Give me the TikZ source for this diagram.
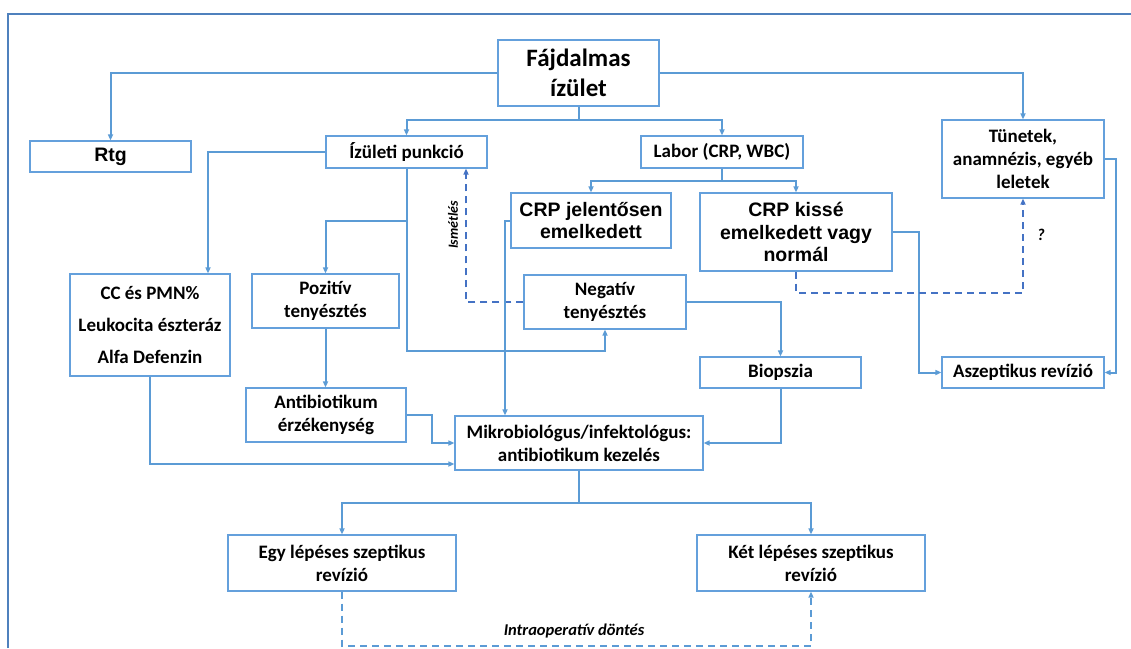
\documentclass[tikz,border=0pt]{standalone}
\usepackage{fontspec}
\setmainfont{Carlito}
\newfontfamily\arifont{Liberation Sans}
\usetikzlibrary{arrows.meta}
\definecolor{boxc}{RGB}{100,160,220}
\definecolor{linec}{RGB}{91,155,213}
\definecolor{dashc}{RGB}{68,114,196}
\definecolor{framec}{RGB}{79,129,189}
\tikzset{
  box/.style={draw=boxc, line width=1.2pt, fill=white, align=center, inner sep=1pt,
    font=\fontsize{19}{23}\selectfont\bfseries},
  abox/.style={box, font=\arifont\fontsize{19.5}{22.5}\selectfont\bfseries},
  conn/.style={draw=linec, line width=2pt},
  arr/.style={conn, -{Triangle[length=6pt,width=5pt]}},
  dsh/.style={draw=dashc, line width=2pt, dash pattern=on 7pt off 5pt, -{Triangle[length=6pt,width=5pt]}},
  dshb/.style={draw=linec, line width=2pt, dash pattern=on 7pt off 5pt, -{Triangle[length=6pt,width=5pt]}},
  lbl/.style={font=\fontsize{16.5}{18}\selectfont\bfseries\itshape, inner sep=0pt}
}
\begin{document}
\begin{tikzpicture}[x=1pt,y=-1pt]
\useasboundingbox (0,0) rectangle (1131,648);
% frame
\draw[framec, line width=2pt] (8,648) -- (8,14) -- (1131,14);
% nodes
\node[box, minimum width=161, minimum height=66, font=\fontsize{25}{30}\selectfont\bfseries] (fa) at (578.5,73) {Fájdalmas\\ízület};
\node[abox, minimum width=161, minimum height=31] (rtg) at (110.5,156.5) {Rtg};
\node[box, minimum width=161, minimum height=32] (izp) at (406.5,152) {Ízületi punkció};
\node[box, minimum width=162, minimum height=32] (lab) at (722,152) {Labor (CRP, WBC)};
\node[box, minimum width=162, minimum height=78] (tun) at (1023,159) {Tünetek,\\anamnézis, egyéb\\leletek};
\node[abox, minimum width=160, minimum height=55] (crpj) at (591,220.5) {CRP jelentősen\\emelkedett};
\node[abox, minimum width=192, minimum height=78] (crpk) at (796,232) {CRP kissé\\emelkedett vagy\\normál};
\node[box, minimum width=160, minimum height=102, font=\fontsize{19}{32}\selectfont\bfseries] (cc) at (150,325) {CC és PMN\%\\Leukocita észteráz\\Alfa Defenzin};
\node[box, minimum width=147, minimum height=54] (poz) at (325.5,301) {Pozitív\\tenyésztés};
\node[box, minimum width=162, minimum height=54] (neg) at (605,302) {Negatív\\tenyésztés};
\node[box, minimum width=161, minimum height=31] (bio) at (780.5,372.5) {Biopszia};
\node[box, minimum width=162, minimum height=31] (asz) at (1023,372.5) {Aszeptikus revízió};
\node[box, minimum width=160, minimum height=54] (abe) at (326,415) {Antibiotikum\\érzékenység};
\node[box, minimum width=248, minimum height=54] (mik) at (579,443) {Mikrobiológus/infektológus:\\antibiotikum kezelés};
\node[box, minimum width=228, minimum height=56] (egy) at (342,563) {Egy lépéses szeptikus\\revízió};
\node[box, minimum width=228, minimum height=56] (ket) at (811,563) {Két lépéses szeptikus\\revízió};
% coordinates
\coordinate (j1) at (578.5,120);
\coordinate (j2) at (406.5,221);
\coordinate (j3) at (722,181);
\coordinate (j4) at (579,503);
% connectors
\draw[arr] (fa.west) -| (rtg.north);
\draw[arr] (fa.east) -| (tun.north);
\draw[conn] (fa.south) -- (j1);
\draw[arr] (j1) -| (izp.north);
\draw[arr] (j1) -| (lab.north);
\draw[arr] (izp.west) -| ([xshift=58pt]cc.north);
\draw[arr] (izp.south) -- ++(0,182) -| (neg.south);
\draw[arr] (j2) -| (poz.north);
\draw[arr] (poz.south) -- (poz.south |- abe.north);
\draw[dsh] (neg.west) -| ([xshift=59.5pt]izp.south);
\draw[conn] (lab.south) -- (j3);
\draw[arr] (j3) -| (crpj.north);
\draw[arr] (j3) -| (crpk.north);
\draw[arr] (crpj.west) -| ([xshift=-74pt]mik.north);
\draw[arr] (crpk.east) -- ++(26,0) |- (asz.west);
\draw[arr] (tun.east) -- ++(11,0) |- (asz.east);
\draw[dsh] (crpk.south) -- ++(0,21) -| (tun.south);
\draw[arr] (neg.east) -| (bio.north);
\draw[arr] (abe.east) -- ++(25,0) |- (mik.west);
\draw[arr] (cc.south) |- ([yshift=-21pt]mik.west);
\draw[arr] (bio.south) |- (mik.east);
\draw[conn] (mik.south) -- (j4);
\draw[arr] (j4) -| (egy.north);
\draw[arr] (j4) -| (ket.north);
\draw[dshb] (egy.south) -- ++(0,54) -| (ket.south);
% labels
\node[lbl, rotate=90, font=\fontsize{14}{16}\selectfont\bfseries\itshape] (l1) at (453,225) {Ismétlés};
\node[lbl] (l2) at (1041,235) {?};
\node[lbl] (l3) at (574,631) {Intraoperatív döntés};
\end{tikzpicture}
\end{document}
